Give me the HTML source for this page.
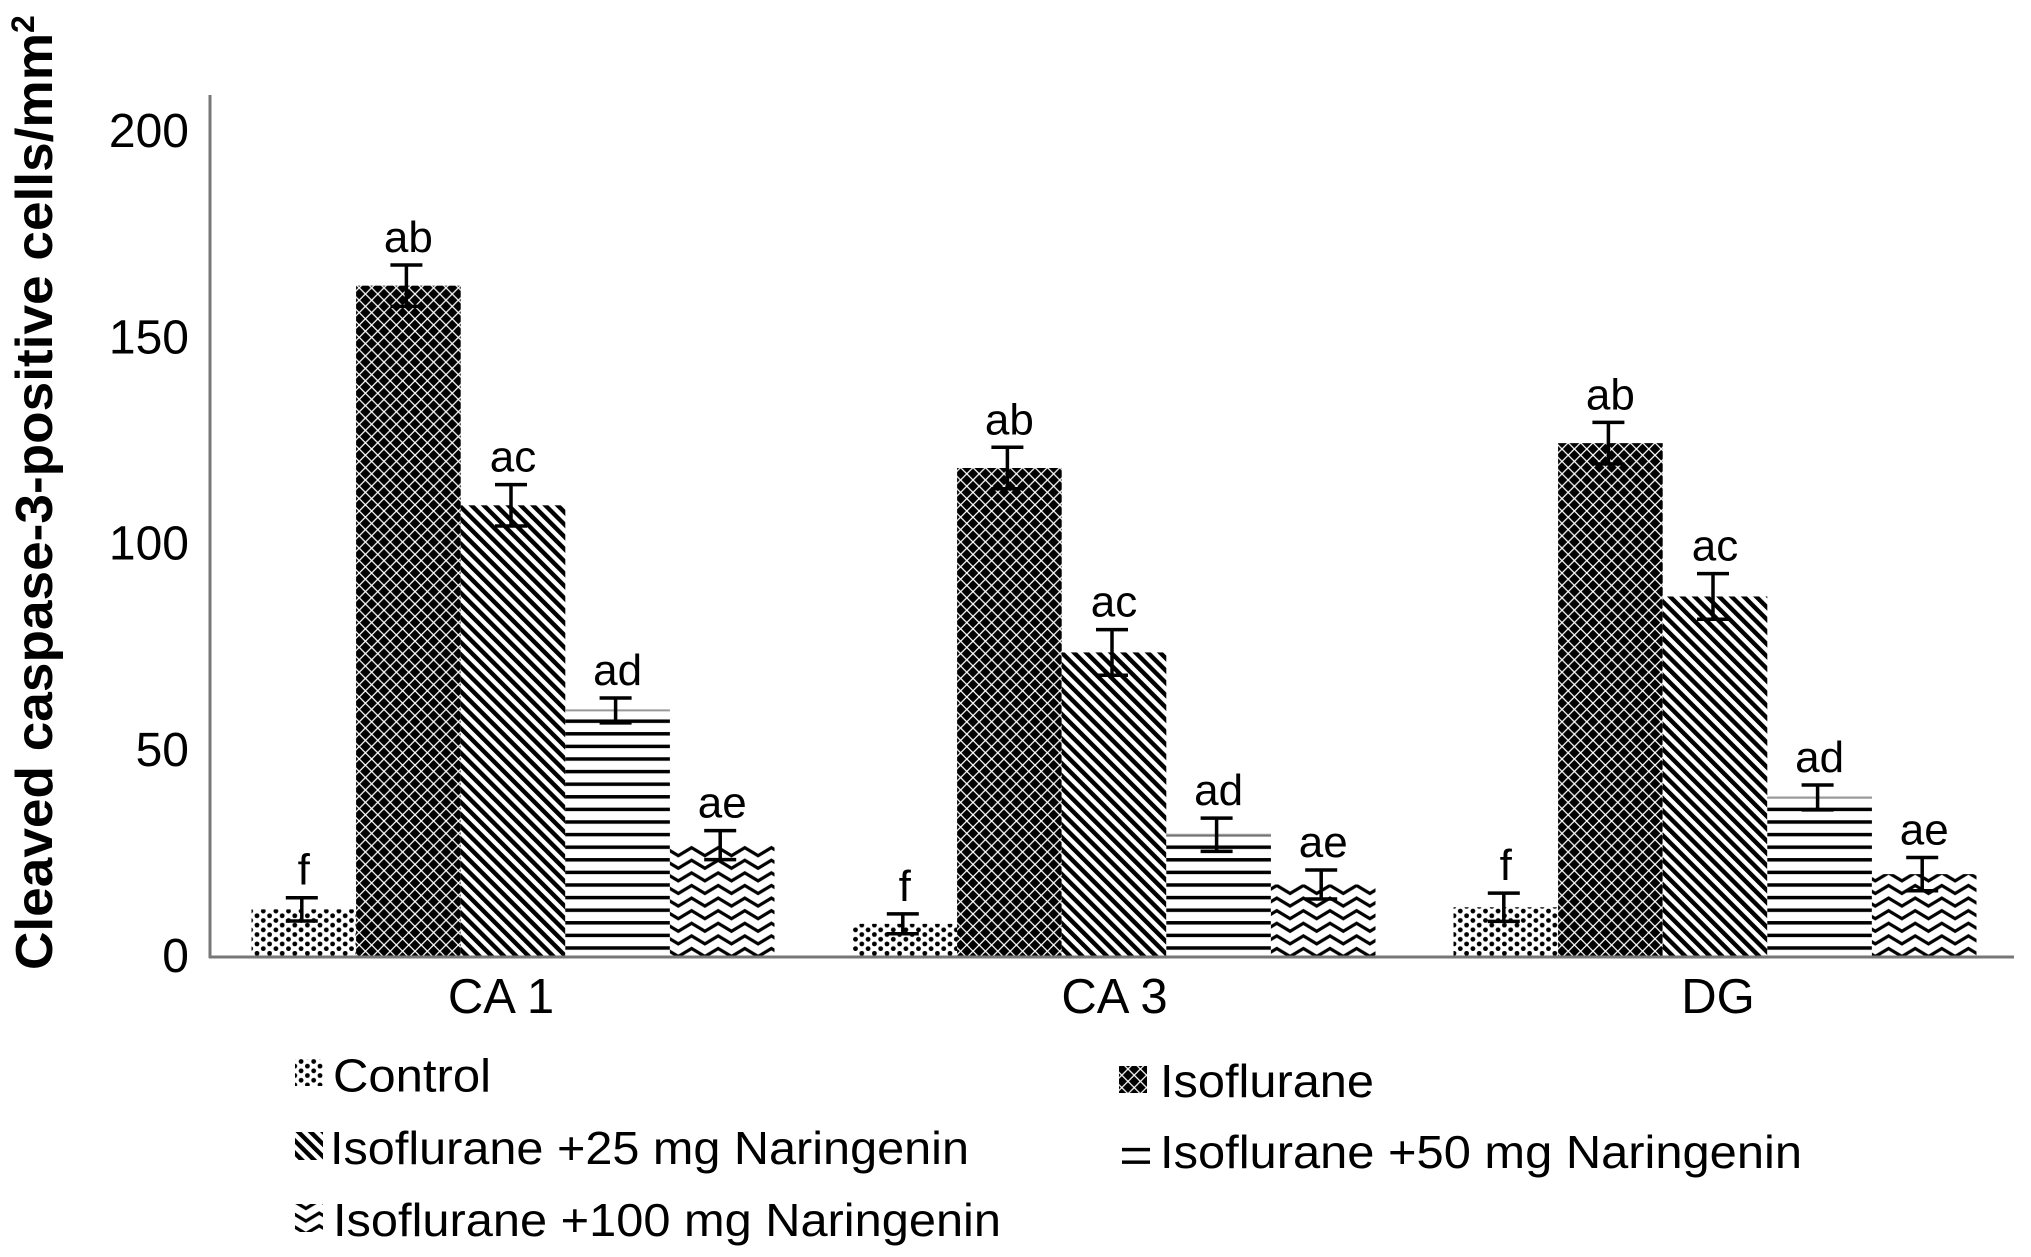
<!DOCTYPE html>
<html lang="en">
<head>
<meta charset="utf-8">
<title>Cleaved caspase-3-positive cells</title>
<style>
html,body{margin:0;padding:0;background:#fff;}
svg{display:block;font-family:"Liberation Sans",Arial,sans-serif;fill:#000;}
</style>
</head>
<body>
<svg id="chart" xmlns="http://www.w3.org/2000/svg" width="2031" height="1257" viewBox="0 0 2031 1257">
  <defs>
    <pattern id="p-control" patternUnits="userSpaceOnUse" width="12.6" height="9.4" x="257" y="951">
      <rect width="12.6" height="9.4" fill="#fff"/>
      <circle cx="0" cy="2.35" r="2.4" fill="#000"/>
      <circle cx="12.6" cy="2.35" r="2.4" fill="#000"/>
      <circle cx="6.3" cy="7.05" r="2.4" fill="#000"/>
    </pattern>
    <pattern id="p-iso" patternUnits="userSpaceOnUse" width="12.4" height="12.4" x="353" y="945">
      <rect width="12.4" height="12.4" fill="#fff"/>
      <polygon points="0,-5.3 5.3,0 0,5.3 -5.3,0" fill="#000"/>
      <polygon points="12.4,-5.3 17.7,0 12.4,5.3 7.1,0" fill="#000"/>
      <polygon points="0,7.1 5.3,12.4 0,17.7 -5.3,12.4" fill="#000"/>
      <polygon points="12.4,7.1 17.7,12.4 12.4,17.7 7.1,12.4" fill="#000"/>
      <polygon points="6.2,0.9 11.5,6.2 6.2,11.5 0.9,6.2" fill="#000"/>
    </pattern>
    <pattern id="p-25" patternUnits="userSpaceOnUse" width="8.7" height="8.7" patternTransform="rotate(-45)">
      <rect width="8.7" height="8.7" fill="#fff"/>
      <rect width="4.4" height="8.7" fill="#000"/>
    </pattern>
    <pattern id="p-50" patternUnits="userSpaceOnUse" width="12.6" height="12.6" y="946.25">
      <rect width="12.6" height="12.6" fill="#fff"/>
      <rect width="12.6" height="3.5" fill="#000"/>
    </pattern>
    <pattern id="p-100" patternUnits="userSpaceOnUse" width="26.6" height="12.6" y="946">
      <rect width="26.6" height="12.6" fill="#fff"/>
      <path d="M-13.3 10.5 L0 2.5 L13.3 10.5 L26.6 2.5 L39.9 10.5" fill="none" stroke="#000" stroke-width="3.2"/>
    </pattern>
  </defs>
  <g id="bars"></g>
  <g id="errors"></g>
  <g id="sig"></g>
  <line x1="210" y1="95" x2="210" y2="958" stroke="#777" stroke-width="3"/>
  <line x1="209" y1="957" x2="2014" y2="957" stroke="#777" stroke-width="3"/>
  <g id="yticks"></g>
  <g id="xticks"></g>
  <text transform="translate(52,970) rotate(-90)" font-size="52" font-weight="700" textLength="937" lengthAdjust="spacingAndGlyphs">Cleaved caspase-3-positive cells/mm</text>
  <text transform="translate(34,33) rotate(-90)" font-size="32" font-weight="700">2</text>
  <g id="legend"></g>
</svg>
<script>
const categories = ["CA 1", "CA 3", "DG"];
const yTickValues = [0, 50, 100, 150, 200];
const seriesNames = ["Control", "Isoflurane", "Isoflurane +25 mg Naringenin", "Isoflurane +50 mg Naringenin", "Isoflurane +100 mg Naringenin"];
const sigLabels = ["f", "ab", "ac", "ad", "ae"];
const controlValues = [11.5, 8, 12];
const isoValues = [162, 118, 124];
const iso25Values = [109, 73.5, 87];
const iso50Values = [59.5, 29.5, 38.5];
const iso100Values = [27, 17.5, 20];
const controlErrors = [2.8, 2.4, 3.4];
const isoErrors = [5, 5, 5];
const iso25Errors = [5, 5.5, 5.5];
const iso50Errors = [3, 4, 3];
const iso100Errors = [3.5, 3.5, 4];

const seriesValues = [controlValues, isoValues, iso25Values, iso50Values, iso100Values];
const seriesErrors = [controlErrors, isoErrors, iso25Errors, iso50Errors, iso100Errors];
const patternIds = ["p-control", "p-iso", "p-25", "p-50", "p-100"];
const seriesSlugs = ["control", "isoflurane", "iso-25", "iso-50", "iso-100"];
const NS = "http://www.w3.org/2000/svg";

function yScale(v) { return 957 - 4.144 * v; }
function tickLabelY(v) { return 972 - 4.125 * v; }
function groupCenter(i) { return 513 + 601 * i; }
function catLabelX(i) { return 501 + 608.5 * i + (i === 1 ? 5 : 0); }
const BAR_W = 104.6;
function barX(i, s) { return groupCenter(i) + (s - 2.5) * BAR_W; }
function make(tag, attrs, parent) {
  const el = document.createElementNS(NS, tag);
  for (const k in attrs) el.setAttribute(k, attrs[k]);
  parent.appendChild(el);
  return el;
}
const barsG = document.getElementById("bars");
const errG = document.getElementById("errors");
const sigG = document.getElementById("sig");
const yG = document.getElementById("yticks");
const xG = document.getElementById("xticks");
const legG = document.getElementById("legend");

categories.forEach(function (cat, i) {
  seriesValues.forEach(function (vals, s) {
    const v = vals[i], e = seriesErrors[s][i];
    const x = barX(i, s), cx = x + BAR_W / 2 - 2;
    const bar = make("rect", {x: x, y: yScale(v), width: BAR_W, height: yScale(0) - yScale(v), fill: "url(#" + patternIds[s] + ")"}, barsG);
    
    
    if (s === 3) {
      const cap = make("line", {x1: x, x2: x + BAR_W, y1: yScale(v), y2: yScale(v), stroke: "#999", "stroke-width": 2}, barsG);
      
      
    }
    const err = make("path", {d: "M" + (cx - 16) + " " + yScale(v + e) + "H" + (cx + 16) + "M" + cx + " " + yScale(v + e) + "V" + yScale(v - e) + "M" + (cx - 16) + " " + yScale(v - e) + "H" + (cx + 16), fill: "none", stroke: "#000", "stroke-width": 3.5}, errG);
    
    
    const lab = make("text", {x: cx + 2, y: yScale(v + e) - 13, "font-size": 44, "text-anchor": "middle"}, sigG);
    lab.textContent = sigLabels[s];
    
    
  });
  const t = make("text", {x: catLabelX(i), y: 1013, "font-size": 49, "text-anchor": "middle"}, xG);
  t.textContent = cat;
  
  
});

yTickValues.forEach(function (v) {
  const t = make("text", {x: 189, y: tickLabelY(v), "font-size": 48, "text-anchor": "end"}, yG);
  t.textContent = String(v);
  
  
});

const legendSwatchX = [295, 1119, 295, 1122, 295];
const legendSwatchY = [1059, 1066, 1132, 1146, 1204];
const legendSwatchH = [27, 27, 28, 18, 28];
const legendTextX = [333, 1160, 330, 1160, 333];
const legendTextY = [1091.5, 1097, 1164, 1168, 1236];
const legendTextW = [158, 214, 639, 642, 668];
seriesNames.forEach(function (name, s) {
  const sw = make("rect", {x: legendSwatchX[s], y: legendSwatchY[s], width: 28, height: legendSwatchH[s], fill: "url(#" + patternIds[s] + ")"}, legG);
  
  
  const t = make("text", {x: legendTextX[s], y: legendTextY[s], "font-size": 46, textLength: legendTextW[s], lengthAdjust: "spacingAndGlyphs"}, legG);
  t.textContent = name;
  
  
});
</script>
</body>
</html>
